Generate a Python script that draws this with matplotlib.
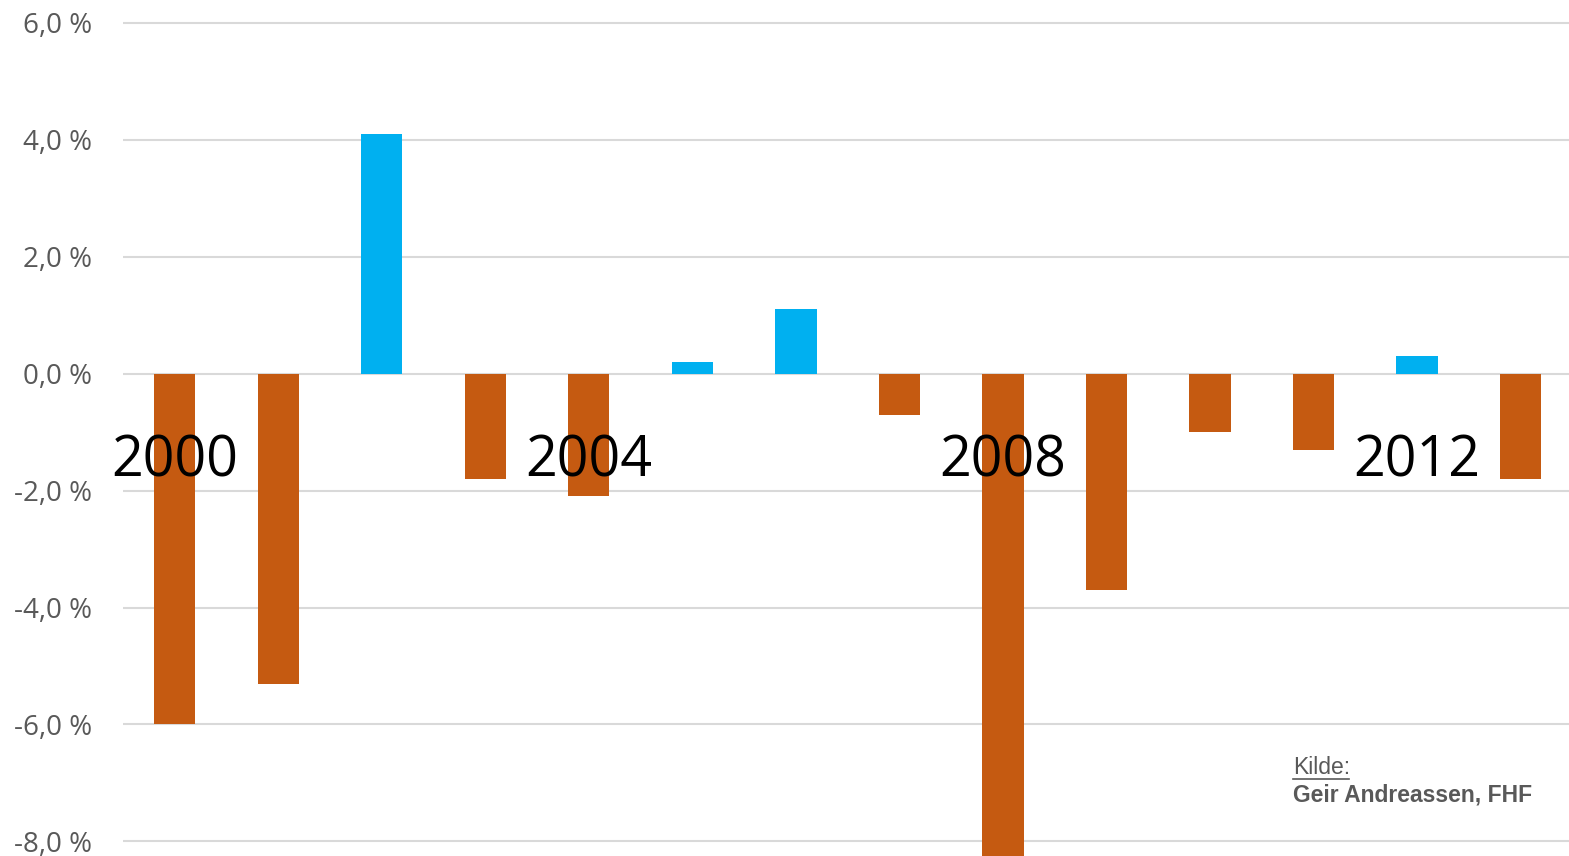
import matplotlib.pyplot as plt
import numpy as np

# yearly change, per cent (2008 bar runs off the bottom of the chart)
YEARS = list(range(2000, 2014))
CHANGE = [-6.0, -5.3, 4.1, -1.8, -2.1, 0.2, 1.1, -0.7, -9.0, -3.7, -1.0, -1.3, 0.3, -1.8]
YEAR_LABELS = ["2000", "2004", "2008", "2012"]
Y_TICKS = [-8.0, -6.0, -4.0, -2.0, 0.0, 2.0, 4.0, 6.0]

POS_COLOR = "#00B0F0"
NEG_COLOR = "#C55A11"
GRID_COLOR = "#D9D9D9"
TEXT_GREY = "#595959"


def main() -> None:
    fig = plt.figure(figsize=(15.69, 8.56), dpi=100)
    ax = fig.add_axes([123 / 1569, 0.0, 1 - 123 / 1569, 1.0])

    x = np.arange(len(YEARS))
    colors = [POS_COLOR if v > 0 else NEG_COLOR for v in CHANGE]
    ax.bar(x, CHANGE, width=0.4, color=colors, zorder=2)

    ax.set_xlim(-0.5, 13.47)
    ax.set_ylim(-8.25, 6.39)
    ax.set_yticks(Y_TICKS)
    ax.set_yticklabels([f"{v:.1f} %".replace(".", ",") for v in Y_TICKS],
                       fontsize=20, color=TEXT_GREY, family="Open Sans")
    ax.tick_params(axis="y", length=0, pad=22)
    ax.set_xticks([])
    ax.grid(axis="y", color=GRID_COLOR, linewidth=1.5, zorder=0)
    for side in ax.spines.values():
        side.set_visible(False)

    for lab in YEAR_LABELS:
        i = YEARS.index(int(lab))
        ax.text(i, -1.51, lab, ha="center", va="center", fontsize=40,
                family="Open Sans", color="black", zorder=3)

    fig.text(1293 / 1569, 1 - 768 / 856, "Kilde:", ha="left", va="center",
             fontsize=16.5, color=TEXT_GREY, family="Liberation Sans")
    fig.text(1293 / 1569, 1 - 795 / 856, "Geir Andreassen, FHF", ha="left", va="center",
             fontsize=16.5, color=TEXT_GREY, family="Liberation Sans", weight="bold")
    fig.add_artist(plt.Line2D([1293 / 1569, 1349 / 1569], [1 - 779 / 856, 1 - 779 / 856],
                              color=TEXT_GREY, linewidth=1.2))

    fig.savefig("out.png", dpi=100)
    plt.close(fig)


if __name__ == "__main__":
    main()
